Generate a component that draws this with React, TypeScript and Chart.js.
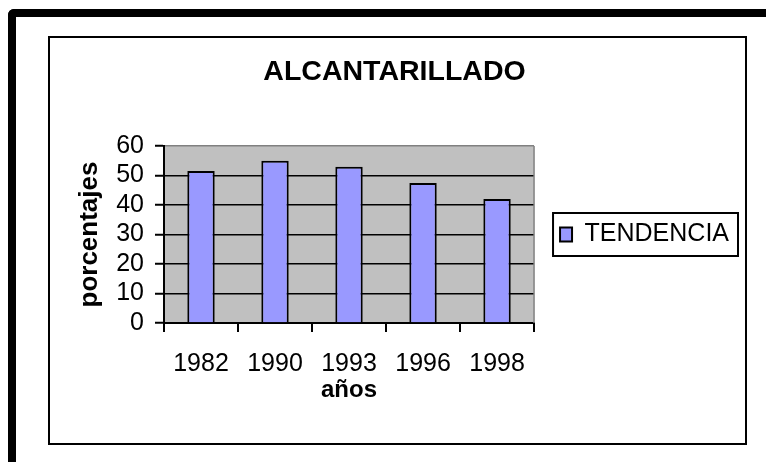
import React, { useEffect, useRef } from "react";
import { Chart, registerables } from "chart.js";

Chart.register(...registerables);

const categories = ["1982", "1990", "1993", "1996", "1998"];
const tendencia = [51.5, 55, 53, 47.5, 42];
const seriesLabel = "TENDENCIA";
const yTicks = [0, 10, 20, 30, 40, 50, 60];
const chartTitle = "ALCANTARILLADO";
const xTitle = "años";
const yTitle = "porcentajes";

const FONT = "'Liberation Sans', Arial, Helvetica, sans-serif";

const decor = {
  id: "decor",
  beforeDraw(chart: any) {
    const { ctx, chartArea: a } = chart;
    ctx.save();
    ctx.fillStyle = "#c0c0c0";
    ctx.fillRect(a.left, a.top, a.right - a.left, a.bottom - a.top);
    ctx.restore();
  },
  beforeDatasetsDraw(chart: any) {
    const { ctx, chartArea: a } = chart;
    ctx.save();
    ctx.strokeStyle = "#808080";
    ctx.lineWidth = 1.5;
    ctx.beginPath();
    ctx.moveTo(a.right, a.top);
    ctx.lineTo(a.right, a.bottom);
    ctx.stroke();
    ctx.restore();
  },
  afterDraw(chart: any) {
    const lg = chart.legend;
    if (!lg || !lg.legendHitBoxes || !lg.legendHitBoxes.length) return;
    const hb = lg.legendHitBoxes[0];
    const cy = hb.top + hb.height / 2;
    const { ctx } = chart;
    ctx.save();
    ctx.strokeStyle = "#000";
    ctx.lineWidth = 2;
    ctx.strokeRect(lg.left + 19, cy - 21.5, lg.right - 1 - (lg.left + 19), 43);
    ctx.restore();
  },
};

export default function App() {
  const ref = useRef<HTMLCanvasElement | null>(null);

  useEffect(() => {
    if (!ref.current) return;
    const chart = new Chart(ref.current, {
      type: "bar",
      data: {
        labels: categories,
        datasets: [
          {
            label: seriesLabel,
            data: tendencia,
            backgroundColor: "#9999ff",
            borderColor: "#000000",
            borderWidth: 2,
            barPercentage: 0.37,
            categoryPercentage: 1,
          },
        ],
      },
      options: {
        responsive: false,
        animation: false,
        devicePixelRatio: 1,
        layout: { padding: { left: 0, top: 0, right: 6, bottom: 0 } },
        plugins: {
          title: {
            display: true,
            text: chartTitle,
            color: "#000",
            font: { family: FONT, size: 28.5, weight: "bold", lineHeight: 1.2 },
            padding: { top: 17.1, bottom: 56.7 },
          },
          legend: {
            display: true,
            position: "right",
            fullSize: false,
            maxWidth: 260,
            labels: {
              boxWidth: 12,
              boxHeight: 14,
              padding: 26,
              color: "#000",
              font: { family: FONT, size: 25 },
            },
          },
          tooltip: { enabled: false },
        },
        scales: {
          x: {
            offset: true,
            grid: {
              display: true,
              offset: true,
              drawOnChartArea: false,
              drawTicks: true,
              tickLength: 9,
              tickColor: "#000",
              tickWidth: 2,
              color: "#000",
              lineWidth: 2,
            },
            border: { display: true, color: "#000", width: 2 },
            ticks: {
              color: "#000",
              font: { family: FONT, size: 25, lineHeight: 1.1 },
              padding: 18,
              maxRotation: 0,
              autoSkip: false,
            },
            title: {
              display: true,
              text: xTitle,
              color: "#000",
              font: { family: FONT, size: 24, weight: "bold", lineHeight: 1.1 },
              padding: { top: 0, bottom: 39.5 },
            },
            afterFit(scale: any) {
              scale.height = 120;
            },
          },
          y: {
            min: 0,
            max: 60,
            afterBuildTicks(scale: any) {
              scale.ticks = yTicks.map((v) => ({ value: v }));
            },
            grid: {
              color: (c: any) => (c.tick && c.tick.value === 60 ? "#808080" : "#000"),
              lineWidth: 1.5,
              drawTicks: true,
              tickLength: 9,
              tickColor: "#000",
              tickWidth: 2,
            },
            border: { display: true, color: "#000", width: 2 },
            ticks: {
              color: "#000",
              font: { family: FONT, size: 25, lineHeight: 1.1 },
              padding: 11,
              autoSkip: false,
            },
            title: {
              display: true,
              text: yTitle,
              color: "#000",
              font: { family: FONT, size: 26, weight: "bold", lineHeight: 1.1 },
              padding: { top: 25.7, bottom: 0 },
            },
            afterFit(scale: any) {
              scale.width = 114;
            },
          },
        },
      },
      plugins: [decor],
    } as any);
    return () => chart.destroy();
  }, []);

  return (
    <div
      style={{
        position: "fixed",
        left: 0,
        top: 0,
        width: 766,
        height: 462,
        background: "#fff",
        overflow: "hidden",
      }}
    >
      <div
        style={{
          position: "absolute",
          left: 8,
          top: 9,
          width: 900,
          height: 600,
          borderTop: "8px solid #000",
          borderLeft: "8px solid #000",
          borderTopLeftRadius: 6,
        }}
      />
      <div
        style={{
          position: "absolute",
          left: 48,
          top: 36,
          width: 699,
          height: 409,
          boxSizing: "border-box",
          border: "2px solid #000",
          background: "#fff",
        }}
      />
      <canvas
        ref={ref}
        width={695}
        height={405}
        style={{ position: "absolute", left: 50, top: 38, width: 695, height: 405, display: "block" }}
      />
    </div>
  );
}
